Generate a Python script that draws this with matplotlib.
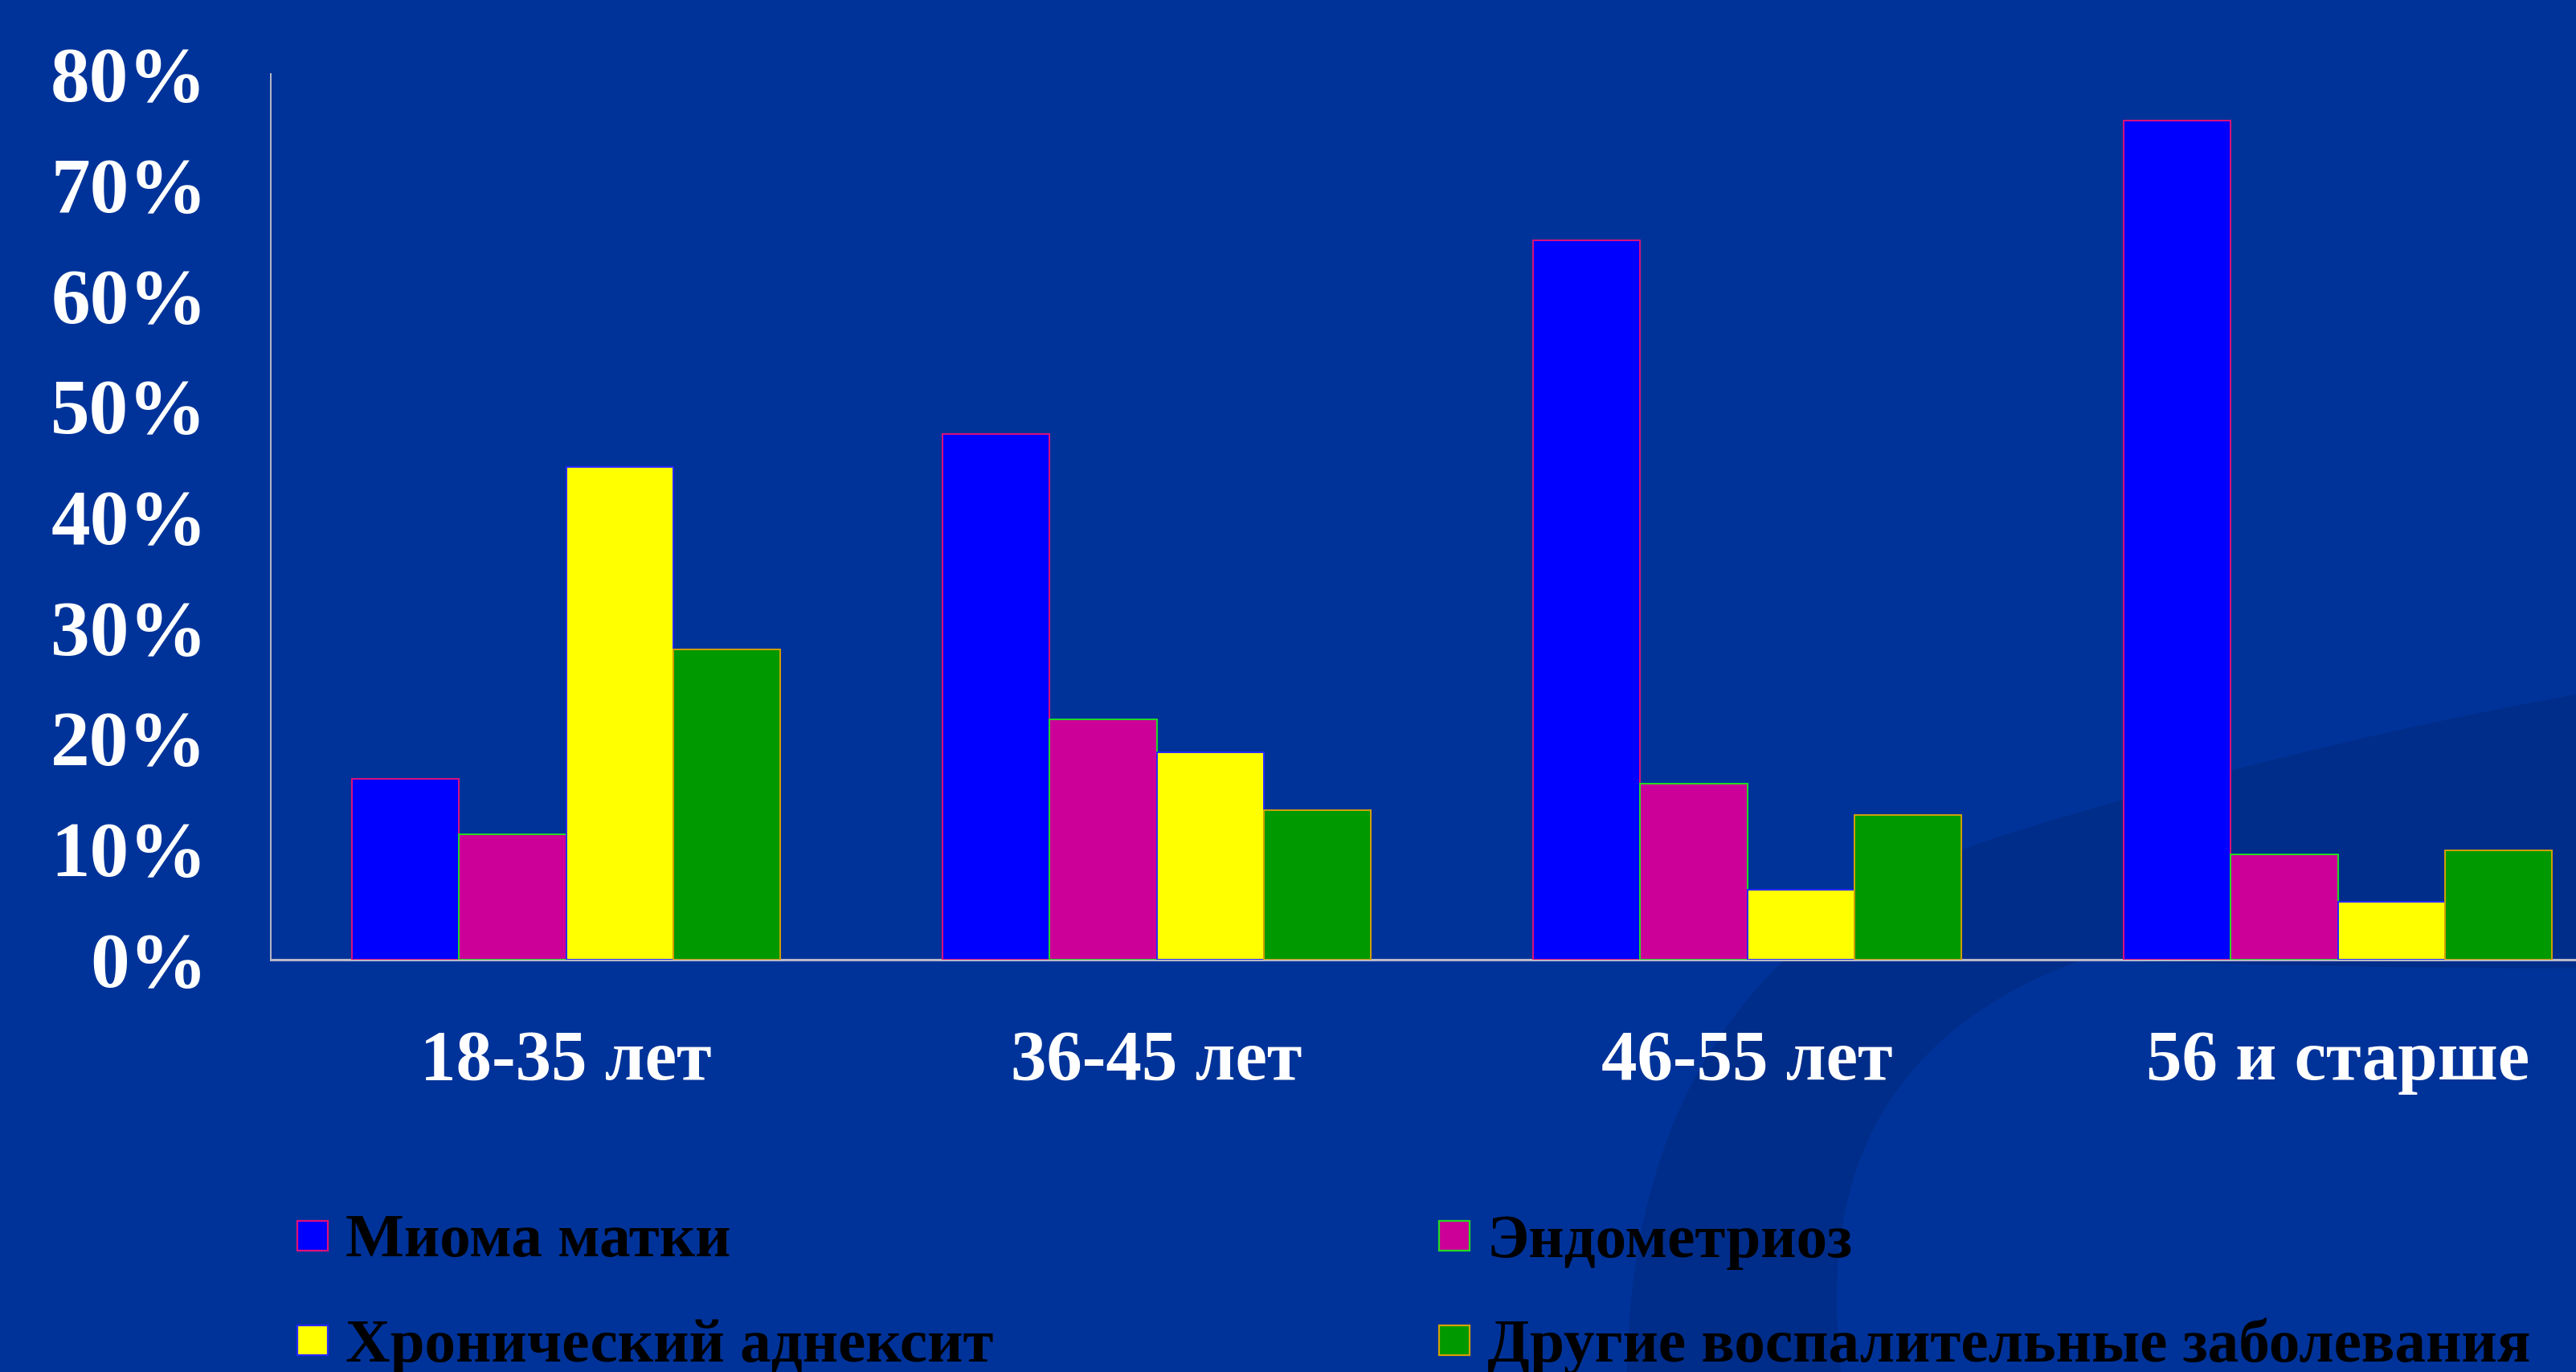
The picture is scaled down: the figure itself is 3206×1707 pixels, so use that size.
import matplotlib
matplotlib.use("Agg")
import matplotlib.pyplot as plt
import numpy as np
from matplotlib.patches import PathPatch, Rectangle
from matplotlib.path import Path
from matplotlib.ticker import FuncFormatter

# ---- data -------------------------------------------------------------
age_groups = ["18-35 лет", "36-45 лет", "46-55 лет", "56 и старше"]
series_names = ["Миома матки", "Эндометриоз", "Хронический аднексит",
                "Другие воспалительные заболевания"]
myoma = [16.3, 47.5, 65.0, 75.8]
endometriosis = [11.3, 21.7, 15.9, 9.5]
adnexitis = [44.5, 18.7, 6.3, 5.2]
other_inflammatory = [28.0, 13.5, 13.1, 9.9]
y_ticks = [0, 10, 20, 30, 40, 50, 60, 70, 80]

series_values = [myoma, endometriosis, adnexitis, other_inflammatory]
face_colors = ["#0000FF", "#CC0099", "#FFFF00", "#009900"]
edge_colors = ["#E0107A", "#22DD22", "#2828FF", "#D4A000"]

BG = "#003399"
SWOOSH = "#002D8A"
FONT = "Liberation Serif"

W, H = 3206, 1707
fig = plt.figure(figsize=(W / 100, H / 100), dpi=100, facecolor=BG)


def fpt(x, y):
    """pixel position (origin top-left) -> figure fraction"""
    return (x / W, 1 - y / H)


# ---- background swoosh --------------------------------------------------
verts = [
    fpt(3206, 864),
    fpt(2950, 910), fpt(2700, 975), fpt(2500, 1037),
    fpt(2200, 1130), fpt(2030, 1350), fpt(2025, 1707),
    fpt(2291, 1707),
    fpt(2265, 1480), fpt(2330, 1290), fpt(2591, 1194),
    fpt(2800, 1200), fpt(3000, 1205), fpt(3206, 1205),
    fpt(3206, 864),
]
codes = [Path.MOVETO,
         Path.CURVE4, Path.CURVE4, Path.CURVE4,
         Path.CURVE4, Path.CURVE4, Path.CURVE4,
         Path.LINETO,
         Path.CURVE4, Path.CURVE4, Path.CURVE4,
         Path.CURVE4, Path.CURVE4, Path.CURVE4,
         Path.CLOSEPOLY]
fig.patches.append(PathPatch(Path(verts, codes), transform=fig.transFigure,
                             facecolor=SWOOSH, edgecolor="none", zorder=0))

# ---- axes ---------------------------------------------------------------
left_px, right_px, base_px, top_px = 337, 3277, 1194, 92
ax = fig.add_axes([left_px / W, 1 - base_px / H,
                   (right_px - left_px) / W, (base_px - top_px) / H])
ax.set_facecolor("none")
ax.set_zorder(2)

n_series = len(series_values)
bar_w = 0.1815
x = np.arange(len(age_groups))
for j, vals in enumerate(series_values):
    ax.bar(x + (j - (n_series - 1) / 2) * bar_w, vals, width=bar_w,
           color=face_colors[j], edgecolor=edge_colors[j], linewidth=1.4,
           zorder=3)

ax.set_xlim(-0.5, len(age_groups) - 0.5)
ax.set_ylim(0, 80)
ax.set_yticks(y_ticks)
ax.yaxis.set_major_formatter(FuncFormatter(lambda v, _: f"{v:.0f}%"))
ax.tick_params(axis="y", length=0, pad=57, labelsize=70, labelcolor="white")
ax.set_xticks([])
for lab in ax.get_yticklabels():
    lab.set_fontfamily(FONT)
    lab.set_fontweight("bold")

for side in ("top", "right"):
    ax.spines[side].set_visible(False)
ax.spines["left"].set_color("#B8B8C8")
ax.spines["left"].set_linewidth(1.4)
ax.spines["bottom"].set_color("#B8B8C8")
ax.spines["bottom"].set_linewidth(2.2)

# category labels under the groups
for i, name in enumerate(age_groups):
    ax.text(i, -10.8, name, ha="center", va="baseline", color="white",
            fontsize=64, fontfamily=FONT, fontweight="bold", clip_on=False)

# ---- legend (two columns, two rows) ------------------------------------
col_x = [370, 1791]
row_y = [1537, 1667]
box_w, box_h = 38, 37
for k, name in enumerate(series_names):
    cx = col_x[k % 2]
    cy = row_y[k // 2]
    fig.patches.append(Rectangle(fpt(cx, cy + box_h / 2), box_w / W, box_h / H,
                                 transform=fig.transFigure,
                                 facecolor=face_colors[k],
                                 edgecolor=edge_colors[k], linewidth=1.6,
                                 zorder=3))
    fig.text((cx + 60) / W, 1 - cy / H, name, ha="left", va="center_baseline",
             color="black", fontsize=55.5, fontfamily=FONT, fontweight="bold")

fig.savefig("out.png", dpi=100, facecolor=BG)
